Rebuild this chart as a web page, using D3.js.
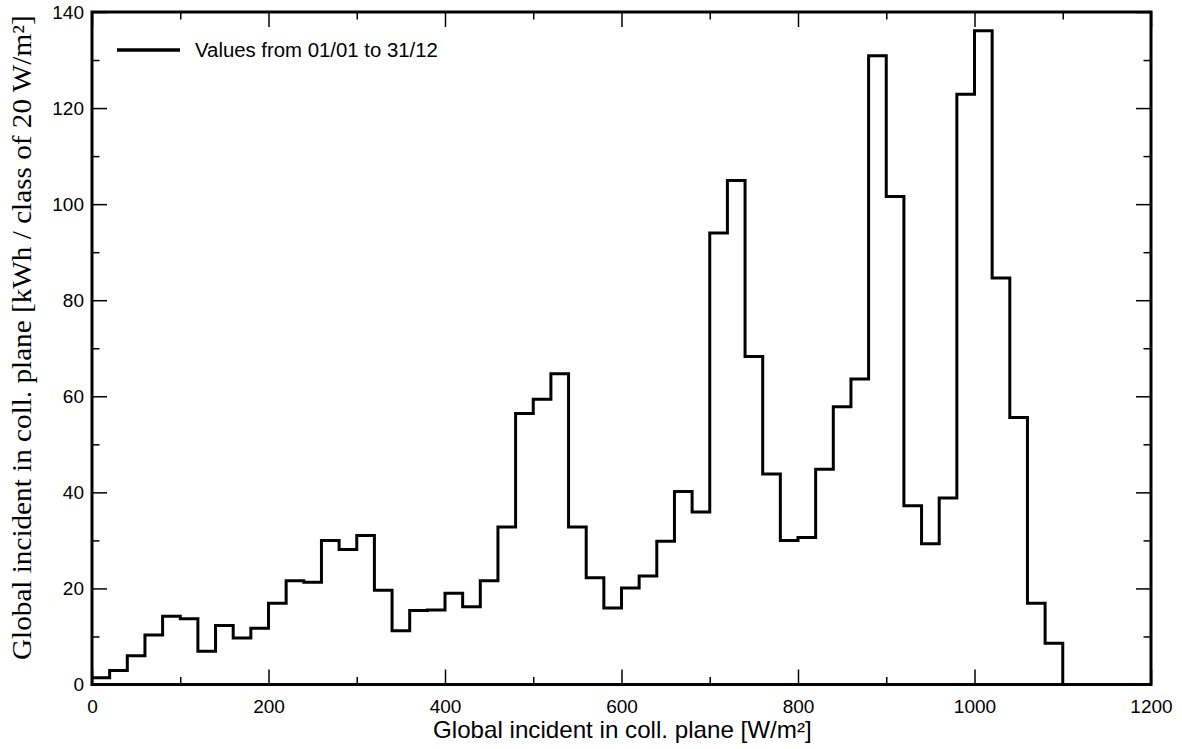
<!DOCTYPE html>
<html>
<head>
<meta charset="utf-8">
<script src="https://cdn.jsdelivr.net/npm/d3@7"></script>
<style>
  html, body { margin: 0; padding: 0; background: #fff; }
  svg { display: block; }
  .tick text { font-family: "Liberation Sans", Arial, sans-serif; font-size: 19px; fill: #000; }
</style>
</head>
<body>
<svg id="chart" width="1182" height="749"></svg>
<script>
// Bin starts (W/m², classes of 20 W/m²)
const binStarts = [0,20,40,60,80,100,120,140,160,180,200,220,240,260,280,300,320,340,360,380,
  400,420,440,460,480,500,520,540,560,580,600,620,640,660,680,700,720,740,760,780,
  800,820,840,860,880,900,920,940,960,980,1000,1020,1040,1060,1080];
const binEnd = 1100;
// kWh per class
const values = [1.4, 2.9, 6.0, 10.3, 14.2, 13.7, 6.9, 12.3, 9.7, 11.7,
  16.9, 21.6, 21.3, 30.0, 28.1, 31.0, 19.6, 11.2, 15.4, 15.5,
  19.0, 16.2, 21.6, 32.8, 56.4, 59.4, 64.7, 32.8, 22.2, 15.9,
  20.1, 22.6, 29.8, 40.2, 35.9, 94.0, 104.9, 68.3, 43.8, 30.0,
  30.6, 44.8, 57.8, 63.6, 130.9, 101.6, 37.2, 29.3, 38.8, 122.9,
  136.1, 84.6, 55.6, 16.9, 8.6];
const xMajorTicks = [0,200,400,600,800,1000,1200];
const xMinorTicks = [100,300,500,700,900,1100];
const yMajorTicks = [0,20,40,60,80,100,120,140];
const yMinorTicks = [10,30,50,70,90,110,130];
const seriesLabel = "Values from 01/01 to 31/12";
const xTitle = "Global incident in coll. plane [W/m²]";
const yTitle = "Global incident in coll. plane [kWh / class of 20 W/m²]";

const svg = d3.select("#chart");
const L = 92, R = 1151, T = 12, B = 684.5;
const x = d3.scaleLinear().domain([0, 1200]).range([L, R]);
const y = d3.scaleLinear().domain([0, 140]).range([B, T]);

function styleAxis(g) {
  g.select(".domain").remove();
  g.selectAll(".tick line").attr("stroke", "#000").attr("stroke-width", 1.5);
}

// bottom
svg.append("g").attr("transform", `translate(0,${B})`)
  .call(d3.axisBottom(x).tickValues(xMajorTicks).tickSize(-15).tickPadding(15).tickFormat(d3.format("d")))
  .call(styleAxis);
svg.append("g").attr("transform", `translate(0,${B})`)
  .call(d3.axisBottom(x).tickValues(xMinorTicks).tickSize(-7.5).tickFormat(""))
  .call(styleAxis);
// top
svg.append("g").attr("transform", `translate(0,${T})`)
  .call(d3.axisTop(x).tickValues(xMajorTicks).tickSize(-15).tickFormat(""))
  .call(styleAxis);
svg.append("g").attr("transform", `translate(0,${T})`)
  .call(d3.axisTop(x).tickValues(xMinorTicks).tickSize(-7.5).tickFormat(""))
  .call(styleAxis);
// left
svg.append("g").attr("transform", `translate(${L},0)`)
  .call(d3.axisLeft(y).tickValues(yMajorTicks).tickSize(-15).tickPadding(8).tickFormat(d3.format("d")))
  .call(styleAxis);
svg.append("g").attr("transform", `translate(${L},0)`)
  .call(d3.axisLeft(y).tickValues(yMinorTicks).tickSize(-7.5).tickFormat(""))
  .call(styleAxis);
// right
svg.append("g").attr("transform", `translate(${R},0)`)
  .call(d3.axisRight(y).tickValues(yMajorTicks).tickSize(-15).tickFormat(""))
  .call(styleAxis);
svg.append("g").attr("transform", `translate(${R},0)`)
  .call(d3.axisRight(y).tickValues(yMinorTicks).tickSize(-7.5).tickFormat(""))
  .call(styleAxis);

// frame
svg.append("rect").attr("x", L).attr("y", T).attr("width", R - L).attr("height", B - T)
  .attr("fill", "none").attr("stroke", "#000").attr("stroke-width", 3);

// step line
const pts = binStarts.map((s, i) => [s, values[i]]);
pts.push([binEnd, 0]);
const line = d3.line().x(d => x(d[0])).y(d => y(d[1])).curve(d3.curveStepAfter);
svg.append("path").datum(pts).attr("d", line)
  .attr("fill", "none").attr("stroke", "#000").attr("stroke-width", 3)
  .attr("stroke-linejoin", "miter");

// text scaled horizontally to a target width
function stretchedText(px, py, rot, str, family, size, targetW) {
  const t = svg.append("text")
    .style("font-family", family).style("font-size", size + "px").text(str);
  const w = t.node().getComputedTextLength();
  const sx = targetW / w;
  t.attr("transform", `translate(${px},${py}) rotate(${rot}) scale(${sx},1)`);
  return t;
}

// legend
svg.append("line").attr("x1", 117).attr("x2", 180).attr("y1", 50).attr("y2", 50)
  .attr("stroke", "#000").attr("stroke-width", 3.5);
stretchedText(195, 57, 0, seriesLabel, "'Liberation Sans', Arial, sans-serif", 20, 243);

// axis titles
stretchedText(433, 738, 0, xTitle, "'Liberation Sans', Arial, sans-serif", 23, 379);
stretchedText(31, 660, -90, yTitle, "'Liberation Serif', 'Times New Roman', serif", 27, 645);
</script>
</body>
</html>
